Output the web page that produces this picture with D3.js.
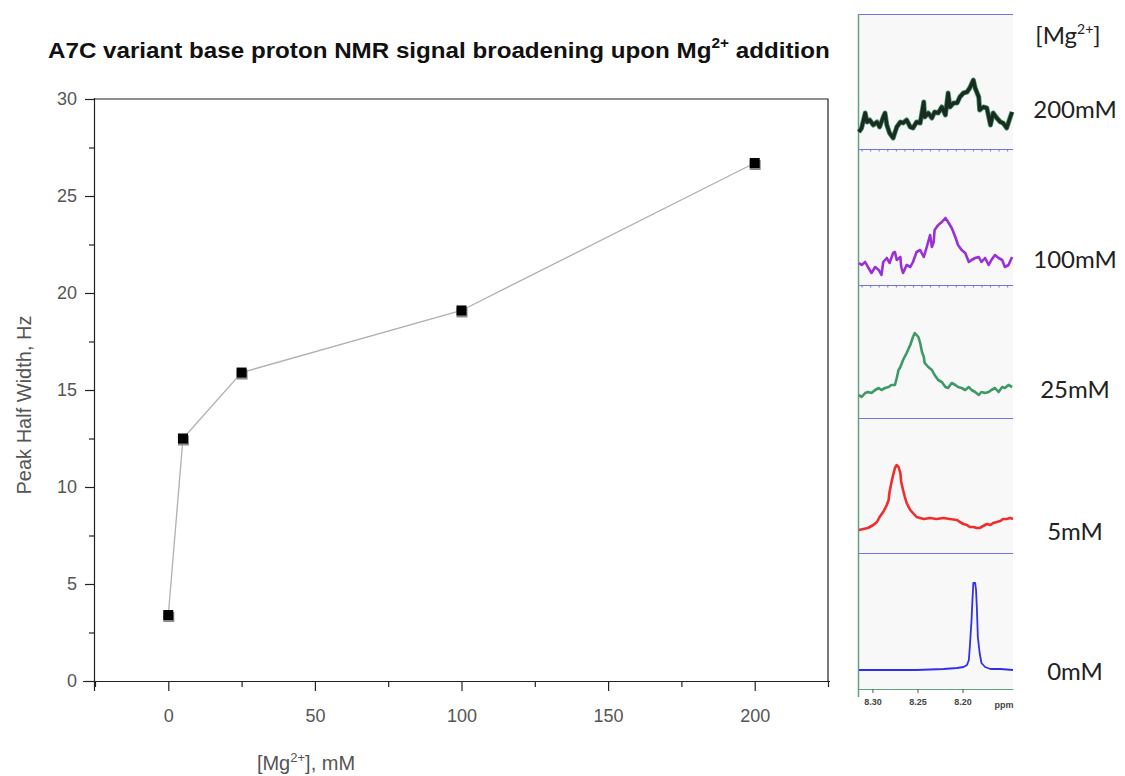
<!DOCTYPE html>
<html>
<head>
<meta charset="utf-8">
<script src="https://cdn.jsdelivr.net/npm/d3@7"></script>
<style>
body { margin: 0; background: #fff; }
.axis text { font-family: "Liberation Sans", Arial, sans-serif; font-size: 18px; fill: #555; }
.axis path, .axis line { stroke: #222; stroke-width: 1.2; }
.label { font-family: "Liberation Sans", Arial, sans-serif; font-size: 20px; fill: #555; }
.conc { font-family: Lato, "Open Sans", sans-serif; font-size: 24px; fill: #222; }
</style>
</head>
<body>
<script>
// main plot data
var concentration = [0, 5, 25, 100, 200];
var halfWidth = [3.4, 12.5, 15.9, 19.1, 26.7];
var xTicks = [0, 50, 100, 150, 200];
var yTicks = [0, 5, 10, 15, 20, 25, 30];

// NMR spectra, [ppm, intensity]
var spectrumLabels = ["200mM", "100mM", "25mM", "5mM", "0mM"];
var spectrumColors = ["#1d2a22", "#9a2fd8", "#3d9966", "#f02c2c", "#2f2ff0"];
var ppmTicks = [8.30, 8.25, 8.20];
var ppmMinor = [8.31, 8.29, 8.28, 8.27, 8.26, 8.24, 8.23, 8.22, 8.21, 8.19, 8.18, 8.17, 8.16];

var trace200 = [[8.315,17],[8.312,21],[8.308,36],[8.306,27],[8.303,29],[8.299,24],[8.295,27],[8.292,22],
  [8.288,32],[8.286,36],[8.284,24],[8.281,16],[8.277,11],[8.273,22],[8.269,27],[8.266,26],[8.262,29],
  [8.258,22],[8.255,21],[8.251,27],[8.247,26],[8.243,47],[8.242,32],[8.238,36],[8.234,31],[8.231,37],
  [8.227,36],[8.223,42],[8.219,34],[8.216,56],[8.214,42],[8.210,46],[8.206,46],[8.203,52],[8.199,56],
  [8.195,57],[8.192,61],[8.188,69],[8.186,61],[8.182,52],[8.181,39],[8.177,42],[8.173,41],[8.169,24],
  [8.166,36],[8.162,31],[8.158,27],[8.155,26],[8.151,21],[8.147,32],[8.145,37]];
var trace100 = [[8.315,22],[8.312,20],[8.308,23],[8.305,18],[8.301,12],[8.297,18],[8.293,15],[8.290,10],
  [8.288,23],[8.284,27],[8.281,22],[8.277,32],[8.275,33],[8.273,25],[8.269,28],[8.268,18],[8.266,12],
  [8.262,20],[8.258,18],[8.255,23],[8.251,33],[8.247,35],[8.243,28],[8.240,37],[8.236,50],[8.234,38],
  [8.232,43],[8.231,55],[8.227,60],[8.223,63],[8.219,67],[8.216,63],[8.212,57],[8.208,48],[8.205,40],
  [8.201,35],[8.197,32],[8.193,23],[8.190,25],[8.186,27],[8.182,28],[8.179,23],[8.175,27],[8.171,20],
  [8.168,25],[8.164,30],[8.160,27],[8.156,25],[8.153,18],[8.149,20],[8.145,28]];
var trace25 = [[8.315,23],[8.312,21],[8.308,25],[8.305,26],[8.301,25],[8.297,28],[8.293,30],[8.290,28],
  [8.286,30],[8.282,31],[8.279,33],[8.275,33],[8.273,40],[8.271,48],[8.269,51],[8.266,58],[8.262,65],
  [8.258,73],[8.255,81],[8.253,85],[8.251,83],[8.249,81],[8.247,75],[8.245,66],[8.243,61],[8.242,55],
  [8.238,51],[8.234,48],[8.231,43],[8.227,38],[8.223,36],[8.219,31],[8.216,30],[8.212,35],[8.208,33],
  [8.205,31],[8.201,30],[8.197,28],[8.193,31],[8.190,28],[8.186,26],[8.182,23],[8.179,26],[8.175,25],
  [8.171,26],[8.168,28],[8.164,30],[8.160,26],[8.156,31],[8.153,30],[8.149,33],[8.145,31]];
var trace5 = [[8.315,23],[8.310,24],[8.305,25],[8.299,28],[8.295,31],[8.292,36],[8.288,41],[8.284,48],
  [8.282,53],[8.281,61],[8.279,70],[8.277,78],[8.275,85],[8.273,88],[8.271,86],[8.269,80],[8.268,71],
  [8.266,63],[8.264,56],[8.262,50],[8.258,43],[8.255,40],[8.251,36],[8.247,35],[8.243,34],[8.236,35],
  [8.229,34],[8.221,35],[8.214,34],[8.206,33],[8.203,31],[8.199,29],[8.195,28],[8.192,26],[8.188,26],
  [8.184,25],[8.181,25],[8.177,27],[8.173,29],[8.169,28],[8.166,30],[8.162,31],[8.158,32],[8.155,34],
  [8.151,34],[8.147,35],[8.144,34]];
var trace0 = [[8.315,19],[8.288,19],[8.251,19],[8.221,20],[8.206,21],[8.199,22],[8.195,24],[8.193,29],
  [8.192,41],[8.190,69],[8.189,89],[8.188,106],[8.186,106],[8.185,99],[8.184,79],[8.183,52],[8.181,36],
  [8.179,26],[8.175,22],[8.169,20],[8.158,20],[8.144,19]];
var traces = [trace200, trace100, trace25, trace5, trace0];

var margin = {top: 99, right: 297, bottom: 95, left: 95},
    width = 1125 - margin.left - margin.right,
    height = 776 - margin.top - margin.bottom;

var svg = d3.select("body").append("svg")
    .attr("width", 1125)
    .attr("height", 776);

var g = svg.append("g")
    .attr("transform", "translate(" + margin.left + "," + margin.top + ")");

var x = d3.scaleLinear().domain([-25, 225]).range([0, width]);
var y = d3.scaleLinear().domain([0, 30]).range([height, 0]);

// frame
g.append("path")
    .attr("d", "M0,0H" + width + "V" + height)
    .attr("fill", "none")
    .attr("stroke", "#222")
    .attr("stroke-width", 1.2);

// minor ticks first, then major with labels
g.append("g")
    .attr("class", "axis")
    .attr("transform", "translate(0," + height + ")")
    .call(d3.axisBottom(x).tickValues([-25, 25, 75, 125, 175, 225]).tickSize(6).tickFormat(""))
    .select(".domain").remove();
g.append("g")
    .attr("class", "axis")
    .attr("transform", "translate(0," + height + ")")
    .call(d3.axisBottom(x).tickValues(xTicks).tickSize(10).tickPadding(18).tickSizeOuter(0))
    .select(".domain").attr("d", "M-12,0.5H" + (width + 2));

g.append("g")
    .attr("class", "axis")
    .call(d3.axisLeft(y).tickValues([2.5, 7.5, 12.5, 17.5, 22.5, 27.5]).tickSize(6).tickFormat(""))
    .select(".domain").remove();
g.append("g")
    .attr("class", "axis")
    .call(d3.axisLeft(y).tickValues(yTicks).tickSize(10).tickPadding(8).tickSizeOuter(0))
    .select(".domain").attr("d", "M-0.5,-1V" + (height + 10));

// line + markers
var points = concentration.map(function(c, i) { return {c: c, w: halfWidth[i]}; });

g.append("path")
    .datum(points)
    .attr("fill", "none")
    .attr("stroke", "#b0b0b0")
    .attr("stroke-width", 1.3)
    .attr("d", d3.line().x(function(d) { return x(d.c); }).y(function(d) { return y(d.w); }));

g.selectAll(".shadow")
    .data(points)
  .enter().append("rect")
    .attr("class", "shadow")
    .attr("x", function(d) { return x(d.c) - 5; })
    .attr("y", function(d) { return y(d.w) - 3; })
    .attr("width", 11)
    .attr("height", 10)
    .attr("fill", "#8a8a8a");

g.selectAll(".dot")
    .data(points)
  .enter().append("rect")
    .attr("class", "dot")
    .attr("x", function(d) { return x(d.c) - 5; })
    .attr("y", function(d) { return y(d.w) - 5; })
    .attr("width", 10)
    .attr("height", 10)
    .attr("fill", "#000");

// axis titles
var xl = svg.append("text")
    .attr("class", "label")
    .attr("x", 306)
    .attr("y", 770)
    .style("text-anchor", "middle");
xl.append("tspan").text("[Mg");
xl.append("tspan").attr("font-size", "13px").attr("dy", -8).text("2+");
xl.append("tspan").attr("dy", 8).text("], mM");

svg.append("text")
    .attr("class", "label")
    .attr("transform", "translate(31,405) rotate(-90)")
    .style("text-anchor", "middle")
    .text("Peak Half Width, Hz");

// title
var title = svg.append("text")
    .style("font-family", "'Liberation Sans Narrow', 'Liberation Sans', Arial, sans-serif")
    .style("font-weight", "bold")
    .style("font-size", "22px")
    .attr("fill", "#111");
title.append("tspan").text("A7C variant base proton NMR signal broadening upon Mg");
title.append("tspan").attr("font-size", "14px").attr("dy", -10).text("2+");
title.append("tspan").attr("dy", 10).text(" addition");
var tw = title.node().getBBox().width;
title.attr("transform", "translate(48,58) scale(" + (782 / tw) + ",1)");

// NMR panels
var specLeft = 858, specRight = 1013, specTop = 14, specBottom = 689;
var panelBottoms = [149, 285, 418, 553, 689];

var ppm = d3.scaleLinear().domain([8.316, 8.144]).range([specLeft, specRight]);
var inten = d3.scaleLinear().domain([0, 130]).range([0, -130]);

svg.append("rect")
    .attr("x", specLeft)
    .attr("y", specTop)
    .attr("width", specRight - specLeft)
    .attr("height", specBottom - specTop)
    .attr("fill", "#f8f8f8");

svg.selectAll(".sep")
    .data([specTop].concat(panelBottoms.slice(0, 4)))
  .enter().append("line")
    .attr("class", "sep")
    .attr("x1", specLeft)
    .attr("x2", specRight)
    .attr("y1", function(d) { return d + 0.5; })
    .attr("y2", function(d) { return d + 0.5; })
    .attr("stroke", "#7474d4")
    .attr("stroke-width", 1.2);

// little tick marks on the two upper baselines
[149, 285].forEach(function(b) {
  svg.append("g")
      .attr("transform", "translate(0," + (b + 0.5) + ")")
      .call(d3.axisBottom(ppm).tickValues(d3.range(8.312, 8.144, -0.0095)).tickSize(2).tickFormat(""))
      .call(function(a) { a.select(".domain").remove(); a.selectAll("line").attr("stroke", "#7474d4"); });
});

svg.append("line")
    .attr("x1", specLeft + 0.5)
    .attr("x2", specLeft + 0.5)
    .attr("y1", specTop)
    .attr("y2", specBottom + 8)
    .attr("stroke", "#5fa47e")
    .attr("stroke-width", 1.5);

var specLine = d3.line()
    .x(function(d) { return ppm(d[0]); })
    .y(function(d) { return inten(d[1]); });

traces.forEach(function(t, i) {
  var pg = svg.append("g").attr("transform", "translate(0," + panelBottoms[i] + ")");
  if (i === 0) {
    pg.append("path").datum(t).attr("fill", "none").attr("stroke", "#3f9a66")
        .attr("stroke-width", 5).attr("stroke-linejoin", "round").attr("d", specLine);
  }
  pg.append("path")
      .datum(t)
      .attr("fill", "none")
      .attr("stroke", spectrumColors[i])
      .attr("stroke-width", i === 0 ? 3.5 : (i === 4 ? 1.8 : 2.6))
      .attr("stroke-linejoin", "round")
      .attr("d", specLine);
});

// ppm axis
var pa = svg.append("g")
    .attr("transform", "translate(0," + specBottom + ")");
pa.call(d3.axisBottom(ppm).tickValues(ppmMinor).tickSize(2).tickFormat(""));
pa.call(d3.axisBottom(ppm).tickValues(ppmTicks).tickSize(4).tickPadding(6).tickFormat(d3.format(".2f")).tickSizeOuter(0));
pa.select(".domain").attr("stroke", "#5fa47e");
pa.selectAll("line").attr("stroke", "#555");
pa.selectAll("text")
    .style("font-family", "'Liberation Sans', Arial, sans-serif")
    .style("font-size", "9px")
    .style("font-weight", "bold")
    .attr("fill", "#444");
svg.append("text")
    .attr("x", 1004)
    .attr("y", 708)
    .style("font-family", "'Liberation Sans', Arial, sans-serif")
    .style("font-size", "9px")
    .style("font-weight", "bold")
    .style("text-anchor", "middle")
    .attr("fill", "#444")
    .text("ppm");

// concentration labels
var head = svg.append("text")
    .attr("class", "conc")
    .attr("x", 1068)
    .attr("y", 44)
    .style("text-anchor", "middle");
head.append("tspan").text("[Mg");
head.append("tspan").attr("font-size", "14px").attr("dy", -10).text("2+");
head.append("tspan").attr("dy", 10).text("]");

var labelBaselines = [118, 268, 398, 540, 680];
svg.selectAll(".concLabel")
    .data(spectrumLabels)
  .enter().append("text")
    .attr("class", "conc")
    .attr("x", 1075)
    .attr("y", function(d, i) { return labelBaselines[i]; })
    .style("text-anchor", "middle")
    .text(function(d) { return d; });
</script>
</body>
</html>
